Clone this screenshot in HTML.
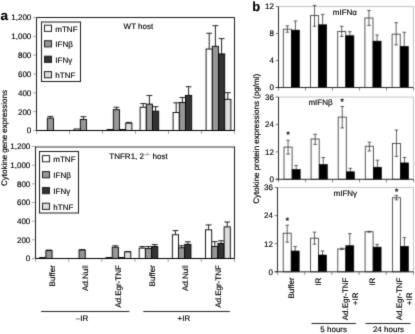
<!DOCTYPE html>
<html><head><meta charset="utf-8"><style>html,body{margin:0;padding:0;background:#fff;width:415px;height:334px;overflow:hidden}svg{display:block;will-change:transform;text-rendering:geometricPrecision}</style></head><body>
<svg width="415" height="334" viewBox="0 0 415 334" font-family='"Liberation Sans", sans-serif' fill="#000">
<defs><filter id="soft" filterUnits="userSpaceOnUse" x="0" y="0" width="415" height="334" color-interpolation-filters="sRGB"><feConvolveMatrix order="3" kernelMatrix="0.018 0.0985 0.018 0.0985 0.533 0.0985 0.018 0.0985 0.018" edgeMode="duplicate"/></filter><filter id="softt" filterUnits="userSpaceOnUse" x="0" y="0" width="415" height="334" color-interpolation-filters="sRGB"><feConvolveMatrix order="3" kernelMatrix="0.0100 0.0800 0.0100 0.0800 0.6400 0.0800 0.0100 0.0800 0.0100" edgeMode="duplicate"/></filter></defs>
<g filter="url(#soft)">
<rect width="415" height="334" fill="#fff"/>
<line x1="33" y1="130.5" x2="36.5" y2="130.5" stroke="#a8a8a8" stroke-width="1"/>
<line x1="33" y1="111.67" x2="36.5" y2="111.67" stroke="#a8a8a8" stroke-width="1"/>
<line x1="33" y1="92.83" x2="36.5" y2="92.83" stroke="#a8a8a8" stroke-width="1"/>
<line x1="33" y1="74" x2="36.5" y2="74" stroke="#a8a8a8" stroke-width="1"/>
<line x1="33" y1="55.17" x2="36.5" y2="55.17" stroke="#a8a8a8" stroke-width="1"/>
<line x1="33" y1="36.33" x2="36.5" y2="36.33" stroke="#a8a8a8" stroke-width="1"/>
<line x1="33" y1="17.5" x2="36.5" y2="17.5" stroke="#a8a8a8" stroke-width="1"/>
<line x1="36.5" y1="130.5" x2="36.5" y2="134" stroke="#a8a8a8" stroke-width="1"/>
<line x1="69.5" y1="130.5" x2="69.5" y2="134" stroke="#a8a8a8" stroke-width="1"/>
<line x1="102.5" y1="130.5" x2="102.5" y2="134" stroke="#a8a8a8" stroke-width="1"/>
<line x1="135.5" y1="130.5" x2="135.5" y2="134" stroke="#a8a8a8" stroke-width="1"/>
<line x1="168.5" y1="130.5" x2="168.5" y2="134" stroke="#a8a8a8" stroke-width="1"/>
<line x1="201.5" y1="130.5" x2="201.5" y2="134" stroke="#a8a8a8" stroke-width="1"/>
<line x1="234.5" y1="130.5" x2="234.5" y2="134" stroke="#a8a8a8" stroke-width="1"/>
<line x1="50.4" y1="116.47" x2="50.4" y2="118.16" stroke="#222" stroke-width="1"/>
<line x1="47.5" y1="116.47" x2="53.3" y2="116.47" stroke="#222" stroke-width="1"/>
<rect x="47.3" y="118.16" width="6.2" height="12.34" fill="#969696" stroke="#000" stroke-width="0.9"/>
<rect x="74.1" y="128.99" width="6.2" height="1.51" fill="#ffffff" stroke="#000" stroke-width="0.9"/>
<line x1="83.4" y1="116.66" x2="83.4" y2="119.39" stroke="#222" stroke-width="1"/>
<line x1="80.5" y1="116.66" x2="86.3" y2="116.66" stroke="#222" stroke-width="1"/>
<rect x="80.3" y="119.39" width="6.2" height="11.11" fill="#969696" stroke="#000" stroke-width="0.9"/>
<rect x="107.1" y="129.56" width="6.2" height="0.94" fill="#ffffff" stroke="#000" stroke-width="0.9"/>
<line x1="116.4" y1="107.24" x2="116.4" y2="109.69" stroke="#222" stroke-width="1"/>
<line x1="113.5" y1="107.24" x2="119.3" y2="107.24" stroke="#222" stroke-width="1"/>
<rect x="113.3" y="109.69" width="6.2" height="20.81" fill="#969696" stroke="#000" stroke-width="0.9"/>
<rect x="119.5" y="129.56" width="6.2" height="0.94" fill="#333333" stroke="#000" stroke-width="0.9"/>
<line x1="128.8" y1="122.4" x2="128.8" y2="123.16" stroke="#222" stroke-width="1"/>
<line x1="125.9" y1="122.4" x2="131.7" y2="122.4" stroke="#222" stroke-width="1"/>
<rect x="125.7" y="123.16" width="6.2" height="7.34" fill="#dcdcdc" stroke="#000" stroke-width="0.9"/>
<line x1="143.2" y1="103.57" x2="143.2" y2="107.24" stroke="#222" stroke-width="1"/>
<line x1="140.3" y1="103.57" x2="146.1" y2="103.57" stroke="#222" stroke-width="1"/>
<rect x="140.1" y="107.24" width="6.2" height="23.26" fill="#ffffff" stroke="#000" stroke-width="0.9"/>
<line x1="149.4" y1="95.47" x2="149.4" y2="104.13" stroke="#222" stroke-width="1"/>
<line x1="146.5" y1="95.47" x2="152.3" y2="95.47" stroke="#222" stroke-width="1"/>
<rect x="146.3" y="104.13" width="6.2" height="26.37" fill="#969696" stroke="#000" stroke-width="0.9"/>
<line x1="155.6" y1="106.68" x2="155.6" y2="111.2" stroke="#222" stroke-width="1"/>
<line x1="152.7" y1="106.68" x2="158.5" y2="106.68" stroke="#222" stroke-width="1"/>
<rect x="152.5" y="111.2" width="6.2" height="19.3" fill="#333333" stroke="#000" stroke-width="0.9"/>
<line x1="176.2" y1="102.81" x2="176.2" y2="112.51" stroke="#222" stroke-width="1"/>
<line x1="173.3" y1="102.81" x2="179.1" y2="102.81" stroke="#222" stroke-width="1"/>
<rect x="173.1" y="112.51" width="6.2" height="17.99" fill="#ffffff" stroke="#000" stroke-width="0.9"/>
<line x1="182.4" y1="97.54" x2="182.4" y2="102.53" stroke="#222" stroke-width="1"/>
<line x1="179.5" y1="97.54" x2="185.3" y2="97.54" stroke="#222" stroke-width="1"/>
<rect x="179.3" y="102.53" width="6.2" height="27.97" fill="#969696" stroke="#000" stroke-width="0.9"/>
<line x1="188.6" y1="86.71" x2="188.6" y2="95.38" stroke="#222" stroke-width="1"/>
<line x1="185.7" y1="86.71" x2="191.5" y2="86.71" stroke="#222" stroke-width="1"/>
<rect x="185.5" y="95.38" width="6.2" height="35.12" fill="#333333" stroke="#000" stroke-width="0.9"/>
<line x1="209.2" y1="33.23" x2="209.2" y2="49.05" stroke="#222" stroke-width="1"/>
<line x1="206.3" y1="33.23" x2="212.1" y2="33.23" stroke="#222" stroke-width="1"/>
<rect x="206.1" y="49.05" width="6.2" height="81.45" fill="#ffffff" stroke="#000" stroke-width="0.9"/>
<line x1="215.4" y1="25.69" x2="215.4" y2="46.31" stroke="#222" stroke-width="1"/>
<line x1="212.5" y1="25.69" x2="218.3" y2="25.69" stroke="#222" stroke-width="1"/>
<rect x="212.3" y="46.31" width="6.2" height="84.19" fill="#969696" stroke="#000" stroke-width="0.9"/>
<line x1="221.6" y1="38.59" x2="221.6" y2="53.94" stroke="#222" stroke-width="1"/>
<line x1="218.7" y1="38.59" x2="224.5" y2="38.59" stroke="#222" stroke-width="1"/>
<rect x="218.5" y="53.94" width="6.2" height="76.56" fill="#333333" stroke="#000" stroke-width="0.9"/>
<line x1="227.8" y1="92.65" x2="227.8" y2="99.33" stroke="#222" stroke-width="1"/>
<line x1="224.9" y1="92.65" x2="230.7" y2="92.65" stroke="#222" stroke-width="1"/>
<rect x="224.7" y="99.33" width="6.2" height="31.17" fill="#dcdcdc" stroke="#000" stroke-width="0.9"/>
<path d="M36.5,130.5 V17.5 H234.5 V130.5 H36.5" fill="none" stroke="#1a1a1a" stroke-width="1"/>
<line x1="36.5" y1="130.5" x2="234.5" y2="130.5" stroke="#000" stroke-width="1"/>
<rect x="41.5" y="22" width="39" height="59.5" fill="#fff" stroke="#1a1a1a" stroke-width="1"/>
<rect x="44.5" y="25.2" width="7" height="6.2" fill="#ffffff" stroke="#222" stroke-width="1"/>
<rect x="44.5" y="40.7" width="7" height="6.2" fill="#969696" stroke="#222" stroke-width="1"/>
<rect x="44.5" y="56.2" width="7" height="6.2" fill="#333333" stroke="#222" stroke-width="1"/>
<rect x="44.5" y="71.6" width="7" height="6.2" fill="#dcdcdc" stroke="#222" stroke-width="1"/>
<line x1="32" y1="258.5" x2="35.5" y2="258.5" stroke="#a8a8a8" stroke-width="1"/>
<line x1="32" y1="239.83" x2="35.5" y2="239.83" stroke="#a8a8a8" stroke-width="1"/>
<line x1="32" y1="221.17" x2="35.5" y2="221.17" stroke="#a8a8a8" stroke-width="1"/>
<line x1="32" y1="202.5" x2="35.5" y2="202.5" stroke="#a8a8a8" stroke-width="1"/>
<line x1="32" y1="183.83" x2="35.5" y2="183.83" stroke="#a8a8a8" stroke-width="1"/>
<line x1="32" y1="165.17" x2="35.5" y2="165.17" stroke="#a8a8a8" stroke-width="1"/>
<line x1="32" y1="146.5" x2="35.5" y2="146.5" stroke="#a8a8a8" stroke-width="1"/>
<line x1="35.5" y1="258.5" x2="35.5" y2="262" stroke="#a8a8a8" stroke-width="1"/>
<line x1="68.67" y1="258.5" x2="68.67" y2="262" stroke="#a8a8a8" stroke-width="1"/>
<line x1="101.83" y1="258.5" x2="101.83" y2="262" stroke="#a8a8a8" stroke-width="1"/>
<line x1="135" y1="258.5" x2="135" y2="262" stroke="#a8a8a8" stroke-width="1"/>
<line x1="168.17" y1="258.5" x2="168.17" y2="262" stroke="#a8a8a8" stroke-width="1"/>
<line x1="201.33" y1="258.5" x2="201.33" y2="262" stroke="#a8a8a8" stroke-width="1"/>
<line x1="234.5" y1="258.5" x2="234.5" y2="262" stroke="#a8a8a8" stroke-width="1"/>
<rect x="39.68" y="257.57" width="6.2" height="0.93" fill="#ffffff" stroke="#000" stroke-width="0.9"/>
<line x1="48.98" y1="250.1" x2="48.98" y2="250.57" stroke="#222" stroke-width="1"/>
<line x1="46.08" y1="250.1" x2="51.88" y2="250.1" stroke="#222" stroke-width="1"/>
<rect x="45.88" y="250.57" width="6.2" height="7.93" fill="#969696" stroke="#000" stroke-width="0.9"/>
<line x1="82.15" y1="249.63" x2="82.15" y2="250.01" stroke="#222" stroke-width="1"/>
<line x1="79.25" y1="249.63" x2="85.05" y2="249.63" stroke="#222" stroke-width="1"/>
<rect x="79.05" y="250.01" width="6.2" height="8.49" fill="#969696" stroke="#000" stroke-width="0.9"/>
<rect x="106.02" y="257.57" width="6.2" height="0.93" fill="#ffffff" stroke="#000" stroke-width="0.9"/>
<line x1="115.32" y1="245.81" x2="115.32" y2="247.21" stroke="#222" stroke-width="1"/>
<line x1="112.42" y1="245.81" x2="118.22" y2="245.81" stroke="#222" stroke-width="1"/>
<rect x="112.22" y="247.21" width="6.2" height="11.29" fill="#969696" stroke="#000" stroke-width="0.9"/>
<rect x="118.42" y="257.57" width="6.2" height="0.93" fill="#333333" stroke="#000" stroke-width="0.9"/>
<line x1="127.72" y1="251.5" x2="127.72" y2="251.87" stroke="#222" stroke-width="1"/>
<line x1="124.82" y1="251.5" x2="130.62" y2="251.5" stroke="#222" stroke-width="1"/>
<rect x="124.62" y="251.87" width="6.2" height="6.63" fill="#dcdcdc" stroke="#000" stroke-width="0.9"/>
<line x1="142.28" y1="246.55" x2="142.28" y2="248.14" stroke="#222" stroke-width="1"/>
<line x1="139.38" y1="246.55" x2="145.18" y2="246.55" stroke="#222" stroke-width="1"/>
<rect x="139.18" y="248.14" width="6.2" height="10.36" fill="#ffffff" stroke="#000" stroke-width="0.9"/>
<line x1="148.48" y1="246.55" x2="148.48" y2="248.51" stroke="#222" stroke-width="1"/>
<line x1="145.58" y1="246.55" x2="151.38" y2="246.55" stroke="#222" stroke-width="1"/>
<rect x="145.38" y="248.51" width="6.2" height="9.99" fill="#969696" stroke="#000" stroke-width="0.9"/>
<line x1="154.68" y1="244.59" x2="154.68" y2="246.55" stroke="#222" stroke-width="1"/>
<line x1="151.78" y1="244.59" x2="157.58" y2="244.59" stroke="#222" stroke-width="1"/>
<rect x="151.58" y="246.55" width="6.2" height="11.95" fill="#333333" stroke="#000" stroke-width="0.9"/>
<line x1="175.45" y1="230.59" x2="175.45" y2="234.79" stroke="#222" stroke-width="1"/>
<line x1="172.55" y1="230.59" x2="178.35" y2="230.59" stroke="#222" stroke-width="1"/>
<rect x="172.35" y="234.79" width="6.2" height="23.71" fill="#ffffff" stroke="#000" stroke-width="0.9"/>
<line x1="181.65" y1="245.71" x2="181.65" y2="247.77" stroke="#222" stroke-width="1"/>
<line x1="178.75" y1="245.71" x2="184.55" y2="245.71" stroke="#222" stroke-width="1"/>
<rect x="178.55" y="247.77" width="6.2" height="10.73" fill="#969696" stroke="#000" stroke-width="0.9"/>
<line x1="187.85" y1="241.79" x2="187.85" y2="244.31" stroke="#222" stroke-width="1"/>
<line x1="184.95" y1="241.79" x2="190.75" y2="241.79" stroke="#222" stroke-width="1"/>
<rect x="184.75" y="244.31" width="6.2" height="14.19" fill="#333333" stroke="#000" stroke-width="0.9"/>
<line x1="208.62" y1="224.9" x2="208.62" y2="229.85" stroke="#222" stroke-width="1"/>
<line x1="205.72" y1="224.9" x2="211.52" y2="224.9" stroke="#222" stroke-width="1"/>
<rect x="205.52" y="229.85" width="6.2" height="28.65" fill="#ffffff" stroke="#000" stroke-width="0.9"/>
<line x1="214.82" y1="241.61" x2="214.82" y2="246.46" stroke="#222" stroke-width="1"/>
<line x1="211.92" y1="241.61" x2="217.72" y2="241.61" stroke="#222" stroke-width="1"/>
<rect x="211.72" y="246.46" width="6.2" height="12.04" fill="#969696" stroke="#000" stroke-width="0.9"/>
<line x1="221.02" y1="240.77" x2="221.02" y2="243.47" stroke="#222" stroke-width="1"/>
<line x1="218.12" y1="240.77" x2="223.92" y2="240.77" stroke="#222" stroke-width="1"/>
<rect x="217.92" y="243.47" width="6.2" height="15.03" fill="#333333" stroke="#000" stroke-width="0.9"/>
<line x1="227.22" y1="222.01" x2="227.22" y2="226.86" stroke="#222" stroke-width="1"/>
<line x1="224.32" y1="222.01" x2="230.12" y2="222.01" stroke="#222" stroke-width="1"/>
<rect x="224.12" y="226.86" width="6.2" height="31.64" fill="#dcdcdc" stroke="#000" stroke-width="0.9"/>
<path d="M35.5,258.5 V146.5 M234.5,146.5 V258.5 H35.5" fill="none" stroke="#1a1a1a" stroke-width="1"/><line x1="35.5" y1="147" x2="234.5" y2="147" stroke="#333" stroke-width="1"/>
<line x1="35.5" y1="258.5" x2="234.5" y2="258.5" stroke="#000" stroke-width="1"/>
<rect x="39.5" y="151.5" width="39" height="61.5" fill="#fff" stroke="#1a1a1a" stroke-width="1"/>
<rect x="42.5" y="155.6" width="7" height="6.2" fill="#ffffff" stroke="#222" stroke-width="1"/>
<rect x="42.5" y="171.6" width="7" height="6.2" fill="#969696" stroke="#222" stroke-width="1"/>
<rect x="42.5" y="187.5" width="7" height="6.2" fill="#333333" stroke="#222" stroke-width="1"/>
<rect x="42.5" y="203.2" width="7" height="6.2" fill="#dcdcdc" stroke="#222" stroke-width="1"/>
<line x1="41.1" y1="311.5" x2="129.4" y2="311.5" stroke="#222" stroke-width="1"/>
<line x1="143.3" y1="311.5" x2="229.8" y2="311.5" stroke="#222" stroke-width="1"/>
<path d="M278.5,6.5 H413.5 V87.5" fill="none" stroke="#c4c4c4" stroke-width="1"/>
<line x1="275.7" y1="87.5" x2="278.5" y2="87.5" stroke="#777" stroke-width="1"/>
<line x1="275.7" y1="60.5" x2="278.5" y2="60.5" stroke="#777" stroke-width="1"/>
<line x1="275.7" y1="33.5" x2="278.5" y2="33.5" stroke="#777" stroke-width="1"/>
<line x1="275.7" y1="6.5" x2="278.5" y2="6.5" stroke="#777" stroke-width="1"/>
<line x1="278.5" y1="87.5" x2="278.5" y2="90.5" stroke="#888" stroke-width="1"/>
<line x1="305.5" y1="87.5" x2="305.5" y2="90.5" stroke="#888" stroke-width="1"/>
<line x1="332.5" y1="87.5" x2="332.5" y2="90.5" stroke="#888" stroke-width="1"/>
<line x1="359.5" y1="87.5" x2="359.5" y2="90.5" stroke="#888" stroke-width="1"/>
<line x1="386.5" y1="87.5" x2="386.5" y2="90.5" stroke="#888" stroke-width="1"/>
<line x1="413.5" y1="87.5" x2="413.5" y2="90.5" stroke="#888" stroke-width="1"/>
<rect x="283.3" y="29.18" width="8.1" height="58.32" fill="#fff" stroke="#3a3a3a" stroke-width="0.85"/>
<line x1="287.35" y1="25.87" x2="287.35" y2="32.22" stroke="#444" stroke-width="0.85"/>
<line x1="285.55" y1="25.87" x2="289.15" y2="25.87" stroke="#444" stroke-width="0.85"/>
<line x1="285.55" y1="32.22" x2="289.15" y2="32.22" stroke="#444" stroke-width="0.85"/>
<line x1="295.45" y1="21.01" x2="295.45" y2="30.12" stroke="#444" stroke-width="0.85"/>
<line x1="293.65" y1="21.01" x2="297.25" y2="21.01" stroke="#444" stroke-width="0.85"/>
<rect x="291.4" y="30.12" width="8.1" height="57.38" fill="#000" stroke="#000" stroke-width="0.6"/>
<rect x="310.5" y="15.61" width="8.1" height="71.89" fill="#fff" stroke="#3a3a3a" stroke-width="0.85"/>
<line x1="314.55" y1="5.42" x2="314.55" y2="26.28" stroke="#444" stroke-width="0.85"/>
<line x1="312.75" y1="5.42" x2="316.35" y2="5.42" stroke="#444" stroke-width="0.85"/>
<line x1="312.75" y1="26.28" x2="316.35" y2="26.28" stroke="#444" stroke-width="0.85"/>
<line x1="322.65" y1="14.4" x2="322.65" y2="24.79" stroke="#444" stroke-width="0.85"/>
<line x1="320.85" y1="14.4" x2="324.45" y2="14.4" stroke="#444" stroke-width="0.85"/>
<rect x="318.6" y="24.79" width="8.1" height="62.71" fill="#000" stroke="#000" stroke-width="0.6"/>
<rect x="337.7" y="31.41" width="8.1" height="56.09" fill="#fff" stroke="#3a3a3a" stroke-width="0.85"/>
<line x1="341.75" y1="26.28" x2="341.75" y2="36.47" stroke="#444" stroke-width="0.85"/>
<line x1="339.95" y1="26.28" x2="343.55" y2="26.28" stroke="#444" stroke-width="0.85"/>
<line x1="339.95" y1="36.47" x2="343.55" y2="36.47" stroke="#444" stroke-width="0.85"/>
<line x1="349.85" y1="31.68" x2="349.85" y2="35.73" stroke="#444" stroke-width="0.85"/>
<line x1="348.05" y1="31.68" x2="351.65" y2="31.68" stroke="#444" stroke-width="0.85"/>
<rect x="345.8" y="35.73" width="8.1" height="51.77" fill="#000" stroke="#000" stroke-width="0.6"/>
<rect x="364.9" y="17.97" width="8.1" height="69.53" fill="#fff" stroke="#3a3a3a" stroke-width="0.85"/>
<line x1="368.95" y1="10.42" x2="368.95" y2="25.4" stroke="#444" stroke-width="0.85"/>
<line x1="367.15" y1="10.42" x2="370.75" y2="10.42" stroke="#444" stroke-width="0.85"/>
<line x1="367.15" y1="25.4" x2="370.75" y2="25.4" stroke="#444" stroke-width="0.85"/>
<line x1="377.05" y1="34.98" x2="377.05" y2="41.13" stroke="#444" stroke-width="0.85"/>
<line x1="375.25" y1="34.98" x2="378.85" y2="34.98" stroke="#444" stroke-width="0.85"/>
<rect x="373" y="41.13" width="8.1" height="46.37" fill="#000" stroke="#000" stroke-width="0.6"/>
<rect x="392.1" y="34.17" width="8.1" height="53.33" fill="#fff" stroke="#3a3a3a" stroke-width="0.85"/>
<line x1="396.15" y1="22.77" x2="396.15" y2="44.91" stroke="#444" stroke-width="0.85"/>
<line x1="394.35" y1="22.77" x2="397.95" y2="22.77" stroke="#444" stroke-width="0.85"/>
<line x1="394.35" y1="44.91" x2="397.95" y2="44.91" stroke="#444" stroke-width="0.85"/>
<line x1="404.25" y1="32.29" x2="404.25" y2="46.39" stroke="#444" stroke-width="0.85"/>
<line x1="402.45" y1="32.29" x2="406.05" y2="32.29" stroke="#444" stroke-width="0.85"/>
<rect x="400.2" y="46.39" width="8.1" height="41.11" fill="#000" stroke="#000" stroke-width="0.6"/>
<line x1="278.5" y1="6.5" x2="278.5" y2="87.5" stroke="#2a2a2a" stroke-width="1"/>
<line x1="275.7" y1="87.5" x2="413.5" y2="87.5" stroke="#2a2a2a" stroke-width="1"/>
<path d="M278.5,97 H413.5 V179.3" fill="none" stroke="#c4c4c4" stroke-width="1"/>
<line x1="275.7" y1="179.3" x2="278.5" y2="179.3" stroke="#777" stroke-width="1"/>
<line x1="275.7" y1="151.87" x2="278.5" y2="151.87" stroke="#777" stroke-width="1"/>
<line x1="275.7" y1="124.43" x2="278.5" y2="124.43" stroke="#777" stroke-width="1"/>
<line x1="275.7" y1="97" x2="278.5" y2="97" stroke="#777" stroke-width="1"/>
<line x1="278.5" y1="179.3" x2="278.5" y2="182.3" stroke="#888" stroke-width="1"/>
<line x1="305.5" y1="179.3" x2="305.5" y2="182.3" stroke="#888" stroke-width="1"/>
<line x1="332.5" y1="179.3" x2="332.5" y2="182.3" stroke="#888" stroke-width="1"/>
<line x1="359.5" y1="179.3" x2="359.5" y2="182.3" stroke="#888" stroke-width="1"/>
<line x1="386.5" y1="179.3" x2="386.5" y2="182.3" stroke="#888" stroke-width="1"/>
<line x1="413.5" y1="179.3" x2="413.5" y2="182.3" stroke="#888" stroke-width="1"/>
<rect x="284" y="147.09" width="8.1" height="32.21" fill="#fff" stroke="#3a3a3a" stroke-width="0.85"/>
<line x1="288.05" y1="140.3" x2="288.05" y2="154.11" stroke="#444" stroke-width="0.85"/>
<line x1="286.25" y1="140.3" x2="289.85" y2="140.3" stroke="#444" stroke-width="0.85"/>
<line x1="286.25" y1="154.11" x2="289.85" y2="154.11" stroke="#444" stroke-width="0.85"/>
<line x1="296.15" y1="165.4" x2="296.15" y2="169.49" stroke="#444" stroke-width="0.85"/>
<line x1="294.35" y1="165.4" x2="297.95" y2="165.4" stroke="#444" stroke-width="0.85"/>
<rect x="292.1" y="169.49" width="8.1" height="9.81" fill="#000" stroke="#000" stroke-width="0.6"/>
<rect x="311.1" y="139" width="8.1" height="40.3" fill="#fff" stroke="#3a3a3a" stroke-width="0.85"/>
<line x1="315.15" y1="134.29" x2="315.15" y2="144.39" stroke="#444" stroke-width="0.85"/>
<line x1="313.35" y1="134.29" x2="316.95" y2="134.29" stroke="#444" stroke-width="0.85"/>
<line x1="313.35" y1="144.39" x2="316.95" y2="144.39" stroke="#444" stroke-width="0.85"/>
<line x1="323.25" y1="157.49" x2="323.25" y2="164.51" stroke="#444" stroke-width="0.85"/>
<line x1="321.45" y1="157.49" x2="325.05" y2="157.49" stroke="#444" stroke-width="0.85"/>
<rect x="319.2" y="164.51" width="8.1" height="14.79" fill="#000" stroke="#000" stroke-width="0.6"/>
<rect x="338.2" y="117.12" width="8.1" height="62.18" fill="#fff" stroke="#3a3a3a" stroke-width="0.85"/>
<line x1="342.25" y1="106.49" x2="342.25" y2="127.91" stroke="#444" stroke-width="0.85"/>
<line x1="340.45" y1="106.49" x2="344.05" y2="106.49" stroke="#444" stroke-width="0.85"/>
<line x1="340.45" y1="127.91" x2="344.05" y2="127.91" stroke="#444" stroke-width="0.85"/>
<line x1="350.35" y1="168.3" x2="350.35" y2="171.8" stroke="#444" stroke-width="0.85"/>
<line x1="348.55" y1="168.3" x2="352.15" y2="168.3" stroke="#444" stroke-width="0.85"/>
<rect x="346.3" y="171.8" width="8.1" height="7.5" fill="#000" stroke="#000" stroke-width="0.6"/>
<rect x="365.3" y="146.2" width="8.1" height="33.1" fill="#fff" stroke="#3a3a3a" stroke-width="0.85"/>
<line x1="369.35" y1="142.2" x2="369.35" y2="151" stroke="#444" stroke-width="0.85"/>
<line x1="367.55" y1="142.2" x2="371.15" y2="142.2" stroke="#444" stroke-width="0.85"/>
<line x1="367.55" y1="151" x2="371.15" y2="151" stroke="#444" stroke-width="0.85"/>
<line x1="377.45" y1="160.19" x2="377.45" y2="167.21" stroke="#444" stroke-width="0.85"/>
<line x1="375.65" y1="160.19" x2="379.25" y2="160.19" stroke="#444" stroke-width="0.85"/>
<rect x="373.4" y="167.21" width="8.1" height="12.09" fill="#000" stroke="#000" stroke-width="0.6"/>
<rect x="392.4" y="143.5" width="8.1" height="35.8" fill="#fff" stroke="#3a3a3a" stroke-width="0.85"/>
<line x1="396.45" y1="129.99" x2="396.45" y2="156.39" stroke="#444" stroke-width="0.85"/>
<line x1="394.65" y1="129.99" x2="398.25" y2="129.99" stroke="#444" stroke-width="0.85"/>
<line x1="394.65" y1="156.39" x2="398.25" y2="156.39" stroke="#444" stroke-width="0.85"/>
<line x1="404.55" y1="157.49" x2="404.55" y2="162.91" stroke="#444" stroke-width="0.85"/>
<line x1="402.75" y1="157.49" x2="406.35" y2="157.49" stroke="#444" stroke-width="0.85"/>
<rect x="400.5" y="162.91" width="8.1" height="16.39" fill="#000" stroke="#000" stroke-width="0.6"/>
<line x1="278.5" y1="97" x2="278.5" y2="179.3" stroke="#2a2a2a" stroke-width="1"/>
<line x1="275.7" y1="179.3" x2="413.5" y2="179.3" stroke="#2a2a2a" stroke-width="1"/>
<path d="M277.5,187.5 H413.5 V271.8" fill="none" stroke="#c4c4c4" stroke-width="1"/>
<line x1="274.7" y1="271.8" x2="277.5" y2="271.8" stroke="#777" stroke-width="1"/>
<line x1="274.7" y1="243.7" x2="277.5" y2="243.7" stroke="#777" stroke-width="1"/>
<line x1="274.7" y1="215.6" x2="277.5" y2="215.6" stroke="#777" stroke-width="1"/>
<line x1="274.7" y1="187.5" x2="277.5" y2="187.5" stroke="#777" stroke-width="1"/>
<line x1="277.5" y1="271.8" x2="277.5" y2="274.8" stroke="#888" stroke-width="1"/>
<line x1="304.7" y1="271.8" x2="304.7" y2="274.8" stroke="#888" stroke-width="1"/>
<line x1="331.9" y1="271.8" x2="331.9" y2="274.8" stroke="#888" stroke-width="1"/>
<line x1="359.1" y1="271.8" x2="359.1" y2="274.8" stroke="#888" stroke-width="1"/>
<line x1="386.3" y1="271.8" x2="386.3" y2="274.8" stroke="#888" stroke-width="1"/>
<line x1="413.5" y1="271.8" x2="413.5" y2="274.8" stroke="#888" stroke-width="1"/>
<rect x="283.2" y="233.21" width="8" height="38.59" fill="#fff" stroke="#3a3a3a" stroke-width="0.85"/>
<line x1="287.2" y1="225.2" x2="287.2" y2="242.2" stroke="#444" stroke-width="0.85"/>
<line x1="285.4" y1="225.2" x2="289" y2="225.2" stroke="#444" stroke-width="0.85"/>
<line x1="285.4" y1="242.2" x2="289" y2="242.2" stroke="#444" stroke-width="0.85"/>
<line x1="295.2" y1="246.51" x2="295.2" y2="251.01" stroke="#444" stroke-width="0.85"/>
<line x1="293.4" y1="246.51" x2="297" y2="246.51" stroke="#444" stroke-width="0.85"/>
<rect x="291.2" y="251.01" width="8" height="20.79" fill="#000" stroke="#000" stroke-width="0.6"/>
<rect x="310.5" y="238.2" width="8" height="33.6" fill="#fff" stroke="#3a3a3a" stroke-width="0.85"/>
<line x1="314.5" y1="232.11" x2="314.5" y2="244.22" stroke="#444" stroke-width="0.85"/>
<line x1="312.7" y1="232.11" x2="316.3" y2="232.11" stroke="#444" stroke-width="0.85"/>
<line x1="312.7" y1="244.22" x2="316.3" y2="244.22" stroke="#444" stroke-width="0.85"/>
<line x1="322.5" y1="251.01" x2="322.5" y2="255.01" stroke="#444" stroke-width="0.85"/>
<line x1="320.7" y1="251.01" x2="324.3" y2="251.01" stroke="#444" stroke-width="0.85"/>
<rect x="318.5" y="255.01" width="8" height="16.79" fill="#000" stroke="#000" stroke-width="0.6"/>
<rect x="337.8" y="248.9" width="8" height="22.9" fill="#fff" stroke="#3a3a3a" stroke-width="0.85"/>
<line x1="341.8" y1="248.24" x2="341.8" y2="249.55" stroke="#444" stroke-width="0.85"/>
<line x1="340" y1="248.24" x2="343.6" y2="248.24" stroke="#444" stroke-width="0.85"/>
<line x1="340" y1="249.55" x2="343.6" y2="249.55" stroke="#444" stroke-width="0.85"/>
<line x1="349.8" y1="233.61" x2="349.8" y2="245.71" stroke="#444" stroke-width="0.85"/>
<line x1="348" y1="233.61" x2="351.6" y2="233.61" stroke="#444" stroke-width="0.85"/>
<rect x="345.8" y="245.71" width="8" height="26.09" fill="#000" stroke="#000" stroke-width="0.6"/>
<rect x="365.1" y="231.71" width="8" height="40.09" fill="#fff" stroke="#3a3a3a" stroke-width="0.85"/>
<line x1="369.1" y1="231.29" x2="369.1" y2="232.11" stroke="#444" stroke-width="0.85"/>
<line x1="367.3" y1="231.29" x2="370.9" y2="231.29" stroke="#444" stroke-width="0.85"/>
<line x1="367.3" y1="232.11" x2="370.9" y2="232.11" stroke="#444" stroke-width="0.85"/>
<line x1="377.1" y1="244.4" x2="377.1" y2="247.1" stroke="#444" stroke-width="0.85"/>
<line x1="375.3" y1="244.4" x2="378.9" y2="244.4" stroke="#444" stroke-width="0.85"/>
<rect x="373.1" y="247.1" width="8" height="24.7" fill="#000" stroke="#000" stroke-width="0.6"/>
<rect x="392.4" y="197.71" width="8" height="74.09" fill="#fff" stroke="#3a3a3a" stroke-width="0.85"/>
<line x1="396.4" y1="195.32" x2="396.4" y2="199.82" stroke="#444" stroke-width="0.85"/>
<line x1="394.6" y1="195.32" x2="398.2" y2="195.32" stroke="#444" stroke-width="0.85"/>
<line x1="394.6" y1="199.82" x2="398.2" y2="199.82" stroke="#444" stroke-width="0.85"/>
<line x1="404.4" y1="237.61" x2="404.4" y2="246.3" stroke="#444" stroke-width="0.85"/>
<line x1="402.6" y1="237.61" x2="406.2" y2="237.61" stroke="#444" stroke-width="0.85"/>
<rect x="400.4" y="246.3" width="8" height="25.5" fill="#000" stroke="#000" stroke-width="0.6"/>
<line x1="277.5" y1="187.5" x2="277.5" y2="271.8" stroke="#2a2a2a" stroke-width="1"/>
<line x1="274.7" y1="271.8" x2="413.5" y2="271.8" stroke="#2a2a2a" stroke-width="1"/>
<line x1="311.5" y1="323.5" x2="355.9" y2="323.5" stroke="#222" stroke-width="1"/>
<line x1="365.5" y1="323.5" x2="410.6" y2="323.5" stroke="#222" stroke-width="1"/>
</g>
<g filter="url(#softt)" stroke="#000" stroke-width="0.15"><text x="0.4" y="19.8" font-size="13.5" text-anchor="start" font-weight="bold" >a</text><text x="252.3" y="11.4" font-size="13" text-anchor="start" font-weight="bold" >b</text><text x="31.3" y="133.35" font-size="8" text-anchor="end" font-weight="normal" >0</text><text x="31.3" y="114.52" font-size="8" text-anchor="end" font-weight="normal" >200</text><text x="31.3" y="95.68" font-size="8" text-anchor="end" font-weight="normal" >400</text><text x="31.3" y="76.85" font-size="8" text-anchor="end" font-weight="normal" >600</text><text x="31.3" y="58.02" font-size="8" text-anchor="end" font-weight="normal" >800</text><text x="31.3" y="39.18" font-size="8" text-anchor="end" font-weight="normal" >1,000</text><text x="31.3" y="20.35" font-size="8" text-anchor="end" font-weight="normal" >1,200</text><text x="55.3" y="31.6" font-size="8" text-anchor="start" font-weight="normal" >mTNF</text><text x="55.3" y="47.1" font-size="8" text-anchor="start" font-weight="normal" >IFN&#946;</text><text x="55.3" y="62.6" font-size="8" text-anchor="start" font-weight="normal" >IFN&#947;</text><text x="55.3" y="78" font-size="8" text-anchor="start" font-weight="normal" >hTNF</text><text x="123.6" y="29" font-size="8">WT host</text><text x="30.3" y="261.35" font-size="8" text-anchor="end" font-weight="normal" >0</text><text x="30.3" y="242.68" font-size="8" text-anchor="end" font-weight="normal" >200</text><text x="30.3" y="224.02" font-size="8" text-anchor="end" font-weight="normal" >400</text><text x="30.3" y="205.35" font-size="8" text-anchor="end" font-weight="normal" >600</text><text x="30.3" y="186.68" font-size="8" text-anchor="end" font-weight="normal" >800</text><text x="30.3" y="168.02" font-size="8" text-anchor="end" font-weight="normal" >1,000</text><text x="30.3" y="149.35" font-size="8" text-anchor="end" font-weight="normal" >1,200</text><text x="53.3" y="162" font-size="8" text-anchor="start" font-weight="normal" >mTNF</text><text x="53.3" y="178" font-size="8" text-anchor="start" font-weight="normal" >IFN&#946;</text><text x="53.3" y="193.9" font-size="8" text-anchor="start" font-weight="normal" >IFN&#947;</text><text x="53.3" y="209.6" font-size="8" text-anchor="start" font-weight="normal" >hTNF</text><text x="109.3" y="158.9" font-size="8">TNFR1, 2<tspan font-size="4.6" dy="-3" stroke-width="0">&#8211;/&#8211;</tspan><tspan dy="3"> host</tspan></text><text transform="translate(7.3,138) rotate(-90)" font-size="8" text-anchor="middle">Cytokine gene expressions</text><text transform="translate(55.08,265.2) rotate(-90)" font-size="8" text-anchor="end">Buffer</text><text transform="translate(88.25,265.2) rotate(-90)" font-size="8" text-anchor="end">Ad.Null</text><text transform="translate(121.42,265.2) rotate(-90)" font-size="8" text-anchor="end">Ad.Egr-TNF</text><text transform="translate(154.58,265.2) rotate(-90)" font-size="8" text-anchor="end">Buffer</text><text transform="translate(187.75,265.2) rotate(-90)" font-size="8" text-anchor="end">Ad.Null</text><text transform="translate(220.92,265.2) rotate(-90)" font-size="8" text-anchor="end">Ad.Egr-TNF</text><text x="82" y="320.9" font-size="8" text-anchor="middle" font-weight="normal" >&#8211;IR</text><text x="183.9" y="320.9" font-size="8" text-anchor="middle" font-weight="normal" >+IR</text><text transform="translate(259.3,138.8) rotate(-90)" font-size="8" text-anchor="middle">Cytokine protein expressions (pg/ml)</text><text x="273.9" y="90.35" font-size="8" text-anchor="end" font-weight="normal" >0</text><text x="273.9" y="63.35" font-size="8" text-anchor="end" font-weight="normal" >4</text><text x="273.9" y="36.35" font-size="8" text-anchor="end" font-weight="normal" >8</text><text x="273.9" y="9.35" font-size="8" text-anchor="end" font-weight="normal" >12</text><text x="332.8" y="15.4" font-size="8" text-anchor="start" font-weight="normal" >mIFN&#945;</text><text x="273.9" y="182.15" font-size="8" text-anchor="end" font-weight="normal" >0</text><text x="273.9" y="154.72" font-size="8" text-anchor="end" font-weight="normal" >12</text><text x="273.9" y="127.28" font-size="8" text-anchor="end" font-weight="normal" >24</text><text x="273.9" y="99.85" font-size="8" text-anchor="end" font-weight="normal" >36</text><text x="308.4" y="104.6" font-size="8" text-anchor="start" font-weight="normal" >mIFN&#946;</text><text x="288.2" y="137.7" font-size="9.5" text-anchor="middle" font-weight="normal" >*</text><text x="342.1" y="104.6" font-size="9.5" text-anchor="middle" font-weight="normal" >*</text><text x="272.9" y="274.65" font-size="8" text-anchor="end" font-weight="normal" >0</text><text x="272.9" y="246.55" font-size="8" text-anchor="end" font-weight="normal" >12</text><text x="272.9" y="218.45" font-size="8" text-anchor="end" font-weight="normal" >24</text><text x="272.9" y="190.35" font-size="8" text-anchor="end" font-weight="normal" >36</text><text x="333.5" y="196.4" font-size="8" text-anchor="start" font-weight="normal" >mIFN&#947;</text><text x="287.4" y="224" font-size="9.5" text-anchor="middle" font-weight="normal" >*</text><text x="396.5" y="194.7" font-size="9.5" text-anchor="middle" font-weight="normal" >*</text><text transform="translate(294.3,277.4) rotate(-90)" font-size="8" text-anchor="end">Buffer</text><text transform="translate(320.6,277.6) rotate(-90)" font-size="8" text-anchor="end">IR</text><text transform="translate(347.7,298.9) rotate(-90)" font-size="8" text-anchor="middle">Ad.Egr-TNF</text><text transform="translate(358.2,298.9) rotate(-90)" font-size="8" text-anchor="middle">+IR</text><text transform="translate(374.6,277.6) rotate(-90)" font-size="8" text-anchor="end">IR</text><text transform="translate(401.7,298.9) rotate(-90)" font-size="8" text-anchor="middle">Ad.Egr-TNF</text><text transform="translate(412.2,298.9) rotate(-90)" font-size="8" text-anchor="middle">+IR</text><text x="333.7" y="332.3" font-size="8" text-anchor="middle" font-weight="normal" >5 hours</text><text x="388.5" y="332.3" font-size="8" text-anchor="middle" font-weight="normal" >24 hours</text></g>
</svg>
</body></html>
